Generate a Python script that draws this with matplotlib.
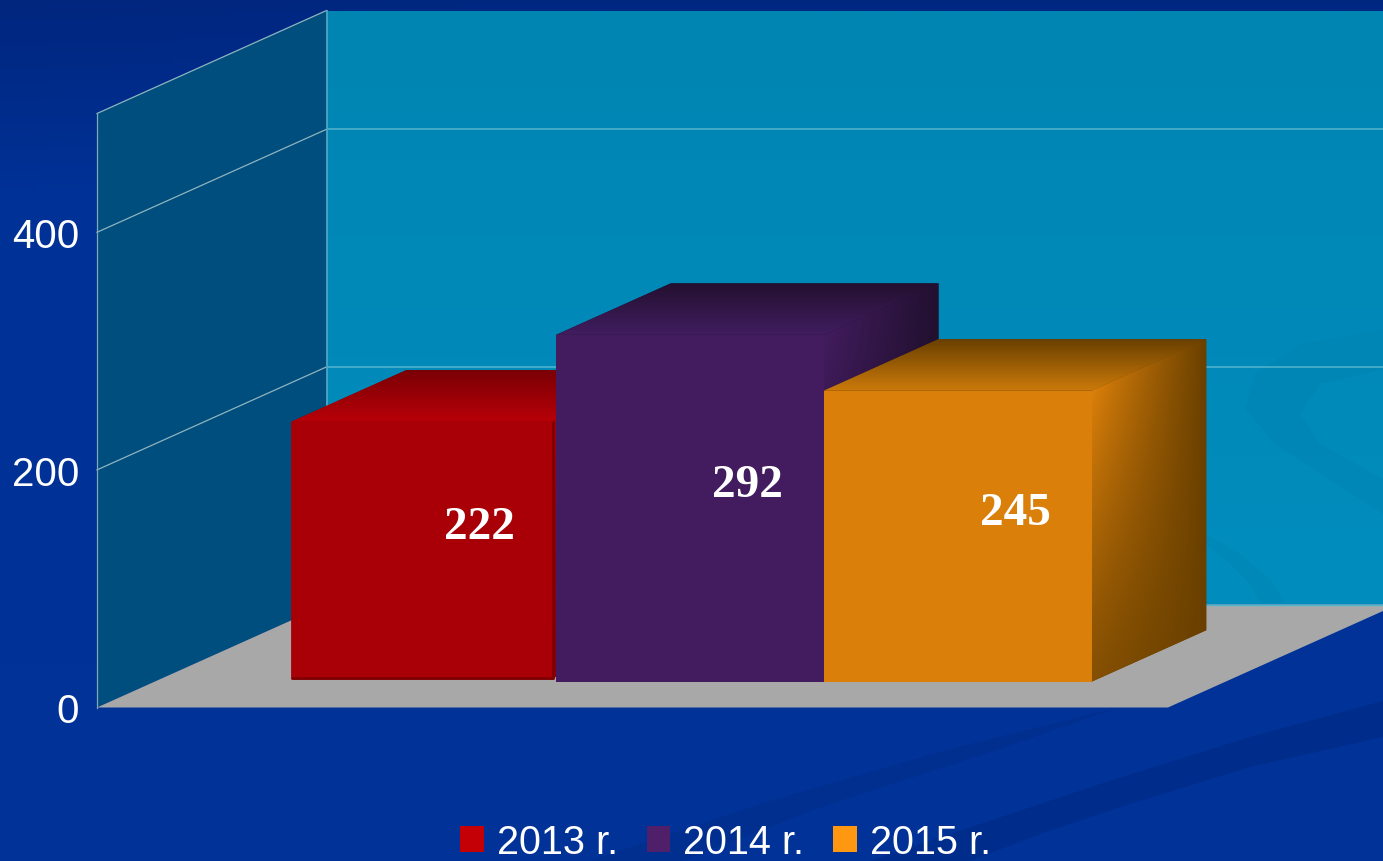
import numpy as np
import matplotlib
matplotlib.use("Agg")
import matplotlib.pyplot as plt
from matplotlib.patches import Polygon, Patch
from matplotlib.colors import to_rgb

# ---- data ----
categories = ["2013 r.", "2014 r.", "2015 r."]
values = [222, 292, 245]
front_colors = ["#A80006", "#421C5E", "#DA7F0A"]
top_near = ["#B80008", "#411D60", "#CC7A0A"]
top_far = ["#7A0005", "#23102F", "#694000"]
side_dark = ["#7A0005", "#21102F", "#694000"]
legend_colors = ["#C40006", "#4F2069", "#FF9810"]
bevel_px = [3.5, 0, 0]
y_ticks = [0, 200, 400]
grid_values = [200, 400, 500]
y_max = 500

W, H = 1383, 862
PX_X = 267.75     # pixels per category
PX_Y = 1.188      # pixels per value unit
X0_PX, Y0_PX = 97, 708.5
DEPTH_X = 229.5 / PX_X
DEPTH_Y = 103 / PX_Y
BAR_D0, BAR_D1 = 0.25, 0.75
X_L, X_R = -1, 3

fig = plt.figure(figsize=(W / 100, H / 100), dpi=100)

# background layer in pixel coordinates
bg = fig.add_axes([0, 0, 1, 1], zorder=0)
bg.set_xlim(0, W); bg.set_ylim(H, 0); bg.axis("off")
yy, xx = np.mgrid[0:1:200j, 0:1:200j]
t = np.clip(1 - yy * 4.5, 0, 1) * 0.9 + np.clip(0.35 - xx, 0, 1) * 0.25 * np.clip(1 - yy * 1.3, 0, 1)
c0, c1 = np.array(to_rgb("#003298")), np.array(to_rgb("#00267E"))
bg_img = c0[None, None, :] * (1 - t[..., None]) + c1[None, None, :] * t[..., None]
bg.imshow(bg_img, extent=(0, W, H, 0), aspect="auto", zorder=0)


def swoosh(axis, top, bottom, color, **kw):
    pts = np.array(top + bottom[::-1], float)
    axis.fill(pts[:, 0], pts[:, 1], color=color, lw=0, **kw)


swoosh(bg, [(1383, 702), (1250, 738), (1100, 785), (980, 825), (870, 862)],
       [(1383, 738), (1250, 768), (1130, 805), (1040, 835), (970, 862)], "#002D8B", zorder=1)
swoosh(bg, [(1120, 708), (950, 750), (760, 805), (590, 862)],
       [(1120, 708), (1000, 750), (830, 805), (680, 862)], "#002F90", zorder=1)

# main chart axes: x in category units, y in value units
ax = fig.add_axes([0, 0, 1, 1], zorder=1)
ax.patch.set_alpha(0)
xlim = (X_L - X0_PX / PX_X, X_L + (W - X0_PX) / PX_X)
ylim = ((Y0_PX - H) / PX_Y, Y0_PX / PX_Y)


def proj(x, v, d):
    return x + d * DEPTH_X, v + d * DEPTH_Y


def quad(corners):
    return np.array([proj(*c) for c in corners])


def gradient_face(corners, rgb_img, zorder):
    poly = quad(corners)
    patch = Polygon(poly, closed=True, fc="none", ec="none", transform=ax.transData)
    ax.add_patch(patch)
    ext = (poly[:, 0].min(), poly[:, 0].max(), poly[:, 1].min(), poly[:, 1].max())
    im = ax.imshow(rgb_img, extent=ext, origin="lower", aspect="auto", zorder=zorder,
                   interpolation="bilinear")
    im.set_clip_path(patch)


def mix(a, b, t):
    a, b = np.array(to_rgb(a)), np.array(to_rgb(b))
    return a[None, None, :] * (1 - t[..., None]) + b[None, None, :] * t[..., None]


# walls and floor
left = quad([(X_L, 0, 0), (X_L, 0, 1), (X_L, y_max, 1), (X_L, y_max, 0)])
floor = quad([(X_L, 0, 0), (X_R, 0, 0), (X_R, 0, 1), (X_L, 0, 1)])
gv, _ = np.mgrid[0:1:100j, 0:1:2j]
gradient_face([(X_L, 0, 1), (X_R, 0, 1), (X_R, y_max, 1), (X_L, y_max, 1)],
              mix("#008DBE", "#0085B2", gv), 1)
ax.add_patch(Polygon(left, fc="#004E7E", ec="none", zorder=1))
ax.add_patch(Polygon(floor, fc="#A8A8A8", ec="none", zorder=1.2))

# faint background shapes showing through the back wall
swoosh(ax, [(1383, 330), (1300, 345), (1255, 375), (1245, 410), (1275, 445), (1383, 515)],
       [(1383, 370), (1320, 385), (1300, 415), (1320, 445), (1383, 480)],
       "#0080AE", transform=bg.transData, zorder=1.1, alpha=0.3)
swoosh(ax, [(1206, 535), (1240, 555), (1270, 580), (1285, 604)],
       [(1206, 545), (1230, 565), (1250, 585), (1260, 604)],
       "#0082B0", transform=bg.transData, zorder=1.1, alpha=0.3)

# grid and wall edges
for gval in grid_values:
    xs, ys = zip(proj(X_L, gval, 0), proj(X_L, gval, 1))
    ax.plot(xs, ys, color="#8FB4BE", lw=0.9, zorder=1.3)
    xs, ys = zip(proj(X_L, gval, 1), proj(X_R, gval, 1))
    if gval < y_max:
        ax.plot(xs, ys, color="#55B4CE", lw=1.1, zorder=1.3)
xs, ys = zip(proj(X_L, 0, 0), proj(X_L, y_max, 0))
ax.plot(xs, ys, color="#7FA8B8", lw=0.9, zorder=1.3)
xs, ys = zip(proj(X_L, 0, 1), proj(X_L, y_max, 1))
ax.plot(xs, ys, color="#4BA8C4", lw=1.3, zorder=1.3)
xs, ys = zip(proj(X_L, 0, 1), proj(X_R, 0, 1))
ax.plot(xs, ys, color="#55B4CE", lw=1.0, zorder=1.3)

# bars
for i, val in enumerate(values):
    base_z = 2 + i
    ix, iy = bevel_px[i] / PX_X, bevel_px[i] / PX_Y
    l, r = i - 0.5 + ix, i + 0.5 - ix
    lo, hi = iy, val - iy
    # underlay hides seams between the shaded faces
    ax.add_patch(Polygon(quad([(l, hi, BAR_D0), (l, hi, BAR_D1), (r, hi, BAR_D1),
                               (r, lo, BAR_D1), (r, lo, BAR_D0)]),
                         fc=side_dark[i], ec="none", zorder=base_z - 0.1))
    # top face: bright at the near edge, dark at the far edge
    v, _ = np.mgrid[0:1:100j, 0:1:2j]
    gradient_face([(l, hi, BAR_D0), (r, hi, BAR_D0), (r, hi, BAR_D1), (l, hi, BAR_D1)],
                  mix(top_near[i], top_far[i], v), base_z)
    # right face: fades from the front colour at its upper front corner to dark
    w, u = np.mgrid[0:1:200j, 0:1:200j]
    shear = (BAR_D1 - BAR_D0) * DEPTH_Y / (val + (BAR_D1 - BAR_D0) * DEPTH_Y)
    fw = np.clip((w - u * shear) / (1 - shear), 0, 1)     # height along the face
    tt = 1 - (1 - u) * (0.25 + 0.75 * fw ** 1.2)
    gradient_face([(r, lo, BAR_D0), (r, lo, BAR_D1), (r, hi, BAR_D1), (r, hi, BAR_D0)],
                  mix(front_colors[i], side_dark[i], tt), base_z + 0.1)
    # front face
    front = quad([(l, lo, BAR_D0), (r, lo, BAR_D0), (r, hi, BAR_D0), (l, hi, BAR_D0)])
    if bevel_px[i]:
        ax.add_patch(Polygon(front, fc=front_colors[i], ec=front_colors[i], lw=2.0,
                             joinstyle="round", zorder=base_z + 0.2))
        ax.plot(*zip(front[0], front[1], front[2]), color="#7A0004", lw=1.8,
                solid_joinstyle="round", solid_capstyle="round", zorder=base_z + 0.3)
    else:
        ax.add_patch(Polygon(front, fc=front_colors[i], ec="none", zorder=base_z + 0.2))

# value labels
for i, val in enumerate(values):
    lx, ly = proj(i, val / 2, 0.5)
    ax.annotate(str(val), (lx, ly), xytext=(0, 1.5), textcoords="offset points",
                color="white", ha="center", va="center_baseline", zorder=10,
                family="Liberation Serif", weight="bold", fontsize=34)

ax.set_xlim(*xlim)
ax.set_ylim(*ylim)

# value axis drawn at the front left edge of the box
for s in ["top", "right", "bottom"]:
    ax.spines[s].set_visible(False)
ax.spines["left"].set_position(("data", X_L))
ax.spines["left"].set_visible(False)
ax.set_xticks([])
ax.set_yticks(y_ticks)
ax.tick_params(axis="y", length=0, pad=13, labelcolor="white", labelsize=29)
for lab in ax.get_yticklabels():
    lab.set_family("Liberation Sans")

handles = [Patch(fc=c, ec="none", label=n) for c, n in zip(legend_colors, categories)]
leg = ax.legend(handles=handles, ncols=3, frameon=False, loc="center",
                bbox_to_anchor=(725.5 / W, 1 - 843 / H), bbox_transform=fig.transFigure,
                prop={"family": "Liberation Sans", "size": 28.5}, labelcolor="white",
                handlelength=0.6, handleheight=0.6, handletextpad=0.33,
                columnspacing=0.72, borderpad=0, borderaxespad=0)
leg.set_zorder(20)

fig.savefig("out.png", dpi=100, facecolor="#003298")
